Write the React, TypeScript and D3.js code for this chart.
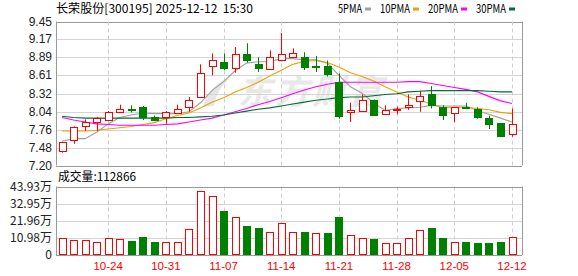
import React from 'react';
import * as d3 from 'd3';

const dates = ['10-20','10-21','10-22','10-23','10-24','10-27','10-28','10-29','10-30','10-31','11-03','11-04','11-05','11-06','11-07','11-10','11-11','11-12','11-13','11-14','11-17','11-18','11-19','11-20','11-21','11-24','11-25','11-26','11-27','11-28','12-01','12-02','12-03','12-04','12-05','12-08','12-09','12-10','12-11','12-12'];
const openP = [7.42,7.59,7.81,7.88,7.92,8.05,8.09,8.11,7.95,7.96,8.02,8.12,8.28,8.75,8.81,8.72,8.94,8.79,8.70,8.85,8.90,8.89,8.76,8.75,8.50,8.04,8.06,8.22,8.00,8.07,8.11,8.21,8.32,8.11,8.01,8.12,8.09,7.94,7.86,7.69];
const closeP = [7.56,7.80,7.88,7.94,8.04,8.09,8.07,7.95,7.91,8.04,8.09,8.23,8.65,8.85,8.72,8.94,8.85,8.72,8.89,8.94,8.96,8.73,8.75,8.63,7.97,8.07,8.23,7.99,8.06,8.08,8.14,8.29,8.15,7.98,8.11,8.10,7.96,7.84,7.66,7.85];
const highP = [7.57,7.81,7.92,7.96,8.05,8.15,8.14,8.13,7.98,8.05,8.15,8.27,8.78,8.95,8.95,9.05,9.11,8.89,9.00,9.27,9.03,8.97,8.91,8.84,8.64,8.18,8.31,8.23,8.14,8.12,8.31,8.37,8.44,8.14,8.11,8.18,8.11,7.98,7.86,8.09];
const lowP = [7.40,7.54,7.74,7.74,7.91,8.03,8.03,7.91,7.90,7.85,8.01,8.04,8.28,8.61,8.69,8.65,8.81,8.66,8.70,8.83,8.89,8.69,8.66,8.59,7.93,7.88,8.06,7.99,8.00,8.00,8.07,8.04,8.09,7.91,7.88,8.08,7.93,7.77,7.66,7.65];
const prevClose = 7.42;
const volume = [10.7,9.6,9.6,8.3,10.7,10.0,9.0,11.5,8.3,8.3,8.3,16.5,40.8,37.6,28.2,24.2,18.6,17.3,14.8,20.5,14.8,14.8,14.1,14.1,24.4,12.6,10.7,10.3,7.7,7.7,10.7,15.8,17.3,10.9,8.3,8.3,7.7,7.7,8.3,11.29];
const ma5 = [7.58,7.62,7.62,7.72,7.85,7.95,7.99,8.02,8.01,8.01,8.01,8.04,8.18,8.37,8.51,8.68,8.80,8.82,8.82,8.87,8.87,8.85,8.85,8.80,8.61,8.43,8.33,8.18,8.06,8.09,8.10,8.11,8.14,8.13,8.13,8.13,8.06,8.00,7.94,7.88];
const ma10 = [7.74,7.74,7.74,7.75,7.77,7.79,7.81,7.84,7.87,7.93,7.98,8.02,8.10,8.19,8.26,8.35,8.42,8.50,8.60,8.69,8.78,8.83,8.84,8.81,8.74,8.65,8.59,8.52,8.43,8.35,8.27,8.22,8.16,8.10,8.11,8.11,8.09,8.07,8.03,8.01];
const ma20 = [7.95,7.91,7.88,7.85,7.84,7.83,7.83,7.83,7.83,7.84,7.85,7.88,7.91,7.94,7.99,8.04,8.09,8.15,8.20,8.26,8.32,8.38,8.43,8.47,8.50,8.50,8.50,8.50,8.50,8.50,8.51,8.51,8.48,8.45,8.42,8.39,8.35,8.28,8.21,8.17];
const ma30 = [7.97,7.95,7.94,7.94,7.94,7.94,7.94,7.94,7.94,7.94,7.95,7.95,7.96,7.97,7.99,8.02,8.05,8.08,8.10,8.13,8.16,8.19,8.22,8.24,8.26,8.27,8.27,8.29,8.31,8.32,8.35,8.36,8.37,8.37,8.37,8.37,8.37,8.36,8.35,8.35];
const priceTicks = ['9.45','9.17','8.89','8.61','8.32','8.04','7.76','7.48','7.20'];
const volTicks = ['43.93万','32.95万','21.96万','10.98万','0'];
const weekLabels = ['10-24','10-31','11-07','11-14','11-21','11-28','12-05','12-12'];
const title = '长荣股份[300195] 2025-12-12  15:30';
const volTitle = '成交量:112866';
const maNames = ['5PMA','10PMA','20PMA','30PMA'];
const maColors = ['#a0a0a0','#f0a000','#ff00ff','#006f35'];

const RED = '#ff0000';
const GREEN = '#008000';
const CN = "'Noto Sans CJK SC', 'Liberation Sans', sans-serif";
const NUM = "'Liberation Sans', Arial, sans-serif";

export default function App() {
  const L = 56, R = 522;
  const pTop = 21.5, pBot = 165.5;
  const vTop = 186.5, vBot = 255;
  const x = d3.scaleLinear().domain([0, dates.length - 1]).range([62, 512]);
  const y = d3.scaleLinear().domain([7.2, 9.45]).range([pBot, pTop]);
  const vy = d3.scaleLinear().domain([0, 43.93]).range([vBot, vTop]);
  const tickVals = priceTicks.map(Number);
  const volVals = [43.93, 32.95, 21.96, 10.98, 0];
  const line = d3.line<number>().x((_, i) => x(i)).y(d => y(d));
  const mas = [ma5, ma10, ma20, ma30];
  const bw = 7;
  const px = (v: number) => Math.round(v) + 0.5;
  const weekIdx = weekLabels.map(w => dates.indexOf(w));
  const hw = (s: string) => Array.from(s).reduce((a, c) => a + (c.charCodeAt(0) > 255 ? 12 : 6), 0);

  let lx = 338;
  const legend = maNames.map((n, k) => {
    const tx = lx;
    const w = hw(n);
    const sx = tx + w + 3;
    lx = sx + 6 + 9;
    return { n, tx, w, sx, c: maColors[k] };
  });

  return (
    <svg width={578} height={276} style={{ position: 'absolute', left: 0, top: 0, background: '#fff' }}>
      <rect x={0} y={0} width={578} height={276} fill="#fff" />
      <text x={56} y={13} fontFamily={CN} fontSize={12} fill="#000" style={{ whiteSpace: 'pre' }} textLength={197} lengthAdjust="spacingAndGlyphs">{title}</text>
      {legend.map(l => (
        <g key={l.n}>
          <text x={l.tx} y={13} fontFamily={CN} fontSize={12} fill="#000" textLength={l.w} lengthAdjust="spacingAndGlyphs">{l.n}</text>
          <rect x={l.sx} y={7.5} width={6} height={3} fill={l.c} />
        </g>
      ))}
      {/* watermark */}
      <path d="M203,107 C206,95 214,82 232,77 C222,84 216,94 214,106 Z" fill="#e6e6e6" />
      <text x={238} y={104} fontFamily={CN} fontSize={34} fontWeight={700} fontStyle="italic" fill="#e8e8e8" letterSpacing={3}>东方财富</text>

      {/* price grid */}
      {tickVals.map((t, k) => (
        <g key={'pg' + k}>
          <line x1={L} x2={R} y1={px(y(t))} y2={px(y(t))} stroke={k === 0 || k === tickVals.length - 1 ? '#999' : '#d4d4d4'} />
          <text x={52} y={y(t) + 4} textAnchor="end" fontFamily={NUM} fontSize={12} fill="#222">{priceTicks[k]}</text>
        </g>
      ))}
      {weekIdx.map((i, k) => (
        <g key={'vg' + k}>
          <line x1={px(x(i))} x2={px(x(i))} y1={pTop} y2={pBot} stroke="#cfcfcf" strokeDasharray="4,3" />
          <line x1={px(x(i))} x2={px(x(i))} y1={vTop} y2={vBot} stroke="#cfcfcf" strokeDasharray="4,3" />
          <text x={x(i)} y={270} textAnchor="middle" fontFamily={NUM} fontSize={11.5} fill={RED}>{weekLabels[k]}</text>
        </g>
      ))}
      <line x1={px(L)} x2={px(L)} y1={pTop} y2={pBot} stroke="#999" />
      <line x1={px(R)} x2={px(R)} y1={pTop} y2={pBot} stroke="#999" />

      {/* MA lines */}
      {mas.map((m, k) => (
        <path key={'ma' + k} d={line(m) || ''} fill="none" stroke={maColors[k]} strokeWidth={1.1} />
      ))}

      {/* candles */}
      {dates.map((d, i) => {
        const up = closeP[i] >= openP[i];
        const c = up ? RED : GREEN;
        const top = y(Math.max(openP[i], closeP[i]));
        const bot = y(Math.min(openP[i], closeP[i]));
        const cx = px(x(i));
        const h = Math.max(1, Math.round(bot - top));
        const bx = Math.round(x(i) - bw / 2);
        return (
          <g key={'c' + i}>
            <line x1={cx} x2={cx} y1={y(highP[i])} y2={Math.round(top)} stroke={c} />
            <line x1={cx} x2={cx} y1={Math.round(top) + h} y2={y(lowP[i])} stroke={c} />
            {up ? (
              <rect x={bx + 0.5} y={Math.round(top) + 0.5} width={bw} height={h} fill="#fff" stroke={c} />
            ) : (
              <rect x={bx} y={Math.round(top)} width={bw + 1} height={h + 1} fill={c} />
            )}
          </g>
        );
      })}

      {/* volume panel */}
      <text x={58} y={181} fontFamily={CN} fontSize={12} fill="#000" textLength={hw(volTitle)} lengthAdjust="spacingAndGlyphs">{volTitle}</text>
      {volVals.map((v, k) => (
        <g key={'vgl' + k}>
          <line x1={L} x2={R} y1={px(vy(v))} y2={px(vy(v))} stroke={k === 0 || k === volVals.length - 1 ? '#999' : '#d4d4d4'} />
          <text x={52} y={vy(v) + 4} textAnchor="end" fontFamily={CN} fontSize={12} fill="#222">{volTicks[k]}</text>
        </g>
      ))}
      <line x1={px(L)} x2={px(L)} y1={vTop} y2={vBot} stroke="#999" />
      <line x1={px(R)} x2={px(R)} y1={vTop} y2={vBot} stroke="#999" />
      {volume.map((v, i) => {
        const pc = i === 0 ? prevClose : closeP[i - 1];
        const up = closeP[i] >= pc;
        const top = Math.round(vy(v));
        const bx = Math.round(x(i) - bw / 2);
        return up ? (
          <rect key={'v' + i} x={bx + 0.5} y={top + 0.5} width={bw} height={Math.round(vBot) - top - 1} fill="#fff" stroke={RED} />
        ) : (
          <rect key={'v' + i} x={bx} y={top} width={bw + 1} height={Math.round(vBot) - top} fill={GREEN} />
        );
      })}
    </svg>
  );
}
